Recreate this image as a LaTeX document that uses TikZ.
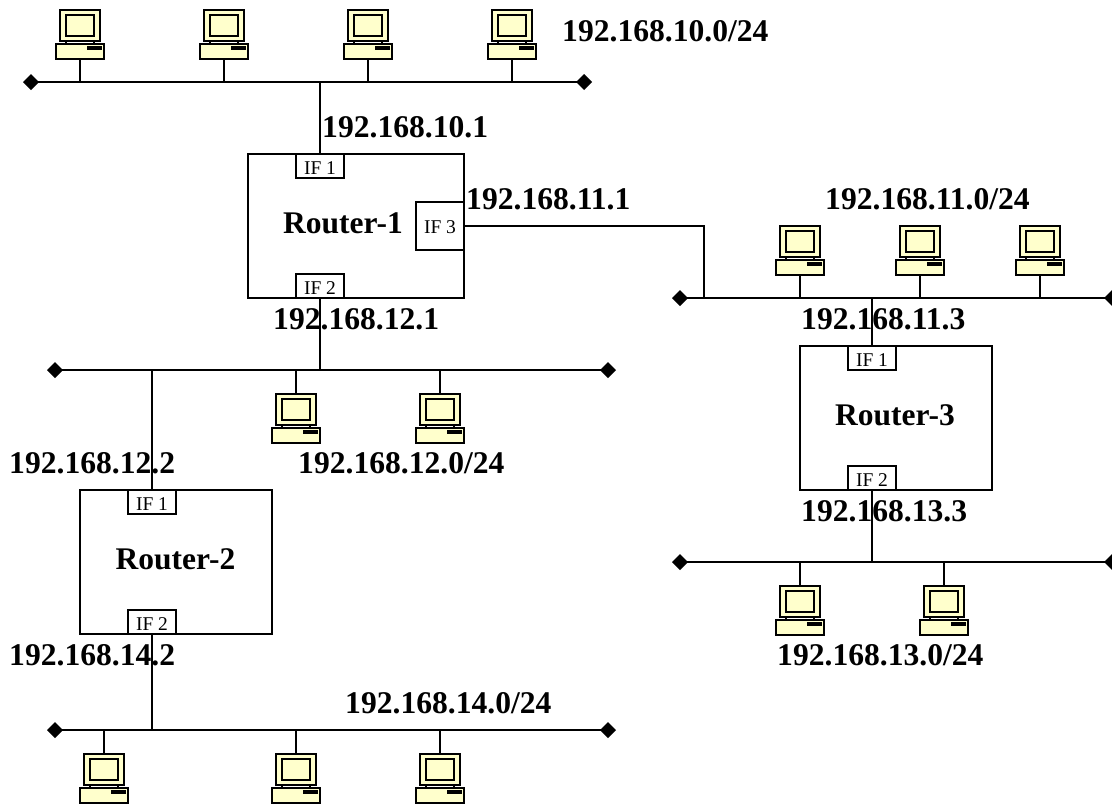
\documentclass[tikz,border=0pt]{standalone}
\usepackage{fontspec}
\setmainfont{Liberation Serif}
\usetikzlibrary{shapes.geometric}
\definecolor{pcfill}{RGB}{255,255,204}
\tikzset{
  x=1pt,y=-1pt,
  wire/.style={line width=1.9pt,black},
  router/.style={draw,line width=1.9pt,black,minimum width=#1,minimum height=144pt,inner sep=0,outer sep=0,anchor=north west},
  router/.default=192pt,
  iface/.style={draw,line width=1.9pt,fill=white,minimum width=48pt,minimum height=24pt,inner sep=0,outer sep=0,text height=17pt,text depth=0pt,font=\fontsize{19.5}{19.5}\selectfont},
  busend/.style={diamond,fill=black,draw=none,minimum size=16pt,inner sep=0,outer sep=0},
  ip/.style={font=\fontsize{31.6}{31.6}\selectfont\bfseries,inner sep=0,anchor=base west},
  rname/.style={font=\fontsize{31.5}{31.5}\selectfont\bfseries,inner sep=0,anchor=base},
  pc/.pic={
    \node[draw,line width=1.8pt,fill=pcfill,minimum width=40pt,minimum height=31pt,inner sep=0,outer sep=0,anchor=north] (-mon) at (0,0) {};
    \node[draw,line width=1.8pt,fill=pcfill,minimum width=28pt,minimum height=21pt,inner sep=0,outer sep=0,anchor=north] (-scr) at (0,5) {};
    \draw[line width=1.8pt] (-14,31) -- (-14,34) (14,31) -- (14,34);
    \node[draw,line width=1.8pt,fill=pcfill,minimum width=48pt,minimum height=15pt,inner sep=0,outer sep=0,anchor=north] (-base) at (0,34) {};
    \fill[black] (7,36) rectangle (22,39.5);
  }
}
\begin{document}
\begin{tikzpicture}
\useasboundingbox (0,0) rectangle (1112,804);
% buses
\node[busend] (b1l) at (31,82) {}; \node[busend] (b1r) at (584,82) {};
\node[busend] (b2l) at (55,370) {}; \node[busend] (b2r) at (608,370) {};
\node[busend] (b3l) at (55,730) {}; \node[busend] (b3r) at (608,730) {};
\node[busend] (b4l) at (680,298) {}; \node[busend] (b4r) at (1112,298) {};
\node[busend] (b5l) at (680,562) {}; \node[busend] (b5r) at (1112,562) {};
\draw[wire] (b1l.center)--(b1r.center) (b2l.center)--(b2r.center) (b3l.center)--(b3r.center) (b4l.center)--(b4r.center) (b5l.center)--(b5r.center);
% routers
\node[router=216pt] (r1) at (248,154) {};
\node[router] (r2) at (80,490) {};
\node[router] (r3) at (800,346) {};
\node[iface] (r1a) at (320,166) {IF 1};
\node[iface] (r1b) at (320,286) {IF 2};
\node[iface,minimum height=48pt,text height=14pt] (r1c) at (440,226) {IF 3};
\node[iface] (r2a) at (152,502) {IF 1};
\node[iface] (r2b) at (152,622) {IF 2};
\node[iface] (r3a) at (872,358) {IF 1};
\node[iface] (r3b) at (872,478) {IF 2};
\node[rname] (n1) at (343,233) {Router-1};
\node[rname] (n2) at (175.5,569) {Router-2};
\node[rname] (n3) at (895,425) {Router-3};
% links
\coordinate (j1) at (320,82);
\coordinate (j2) at (320,370);
\coordinate (j3) at (152,370);
\coordinate (j4) at (152,730);
\coordinate (j5) at (704,298);
\coordinate (j6) at (872,298);
\coordinate (j7) at (872,562);
\coordinate (j8) at (704,226);
\draw[wire] (j1)--(r1a.north) (r1b.south)--(j2) (j3)--(r2a.north) (r2b.south)--(j4);
\draw[wire] (r1c.east)--(j8)--(j5);
\draw[wire] (j6)--(r3a.north) (r3b.south)--(j7);
% computers
\foreach \n/\x/\y/\b in {a/80/10/82,b/224/10/82,c/368/10/82,d/512/10/82,
                         i/800/226/298,j/920/226/298,k/1040/226/298}{
  \pic (\n) at (\x,\y) {pc};
  \coordinate (\n t) at (\x,\b);
  \draw[wire] (\n-base.south)--(\n t);
}
\foreach \n/\x/\y/\b in {e/296/394/370,f/440/394/370,
                         g/104/754/730,h/296/754/730,m/440/754/730,
                         p/800/586/562,q/944/586/562}{
  \coordinate (\n t) at (\x,\b);
  \pic (\n) at (\x,\y) {pc};
  \draw[wire] (\n t)--(\n-mon.north);
}
% addresses
\node[ip] (l1) at (562,41) {192.168.10.0/24};
\node[ip] (l2) at (322,137) {192.168.10.1};
\node[ip] (l3) at (466,209) {192.168.11.1};
\node[ip] (l4) at (825,209) {192.168.11.0/24};
\node[ip] (l5) at (273,329) {192.168.12.1};
\node[ip] (l6) at (801,329) {192.168.11.3};
\node[ip] (l7) at (9,473) {192.168.12.2};
\node[ip] (l8) at (298,473) {192.168.12.0/24};
\node[ip] (l9) at (801,521) {192.168.13.3};
\node[ip] (l10) at (9,665) {192.168.14.2};
\node[ip] (l11) at (777,665) {192.168.13.0/24};
\node[ip] (l12) at (345,713) {192.168.14.0/24};
\end{tikzpicture}
\end{document}
